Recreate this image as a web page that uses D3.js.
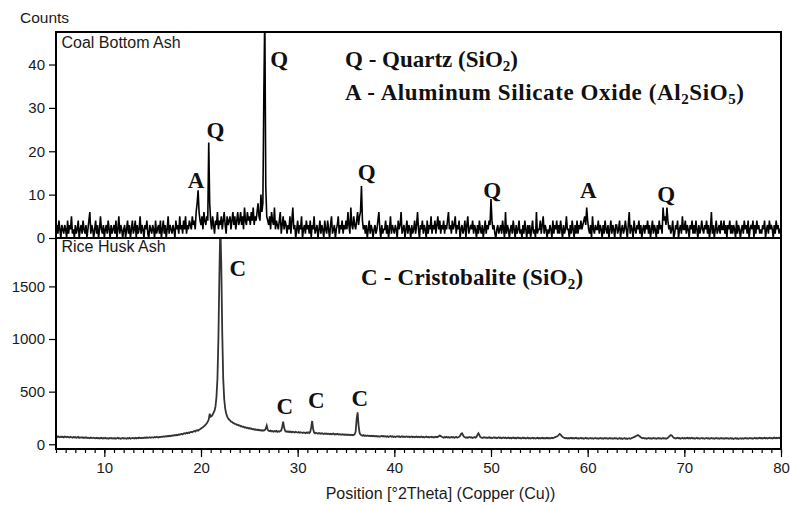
<!DOCTYPE html>
<html><head><meta charset="utf-8">
<script src="https://cdn.jsdelivr.net/npm/d3@7"></script>
<style>body{margin:0;background:#fff}svg{display:block}</style>
</head><body>
<svg id="c" width="791" height="505"></svg>
<script>
// ---- data ----
const thetaStart = 5, thetaStep = 0.1;   // measurement grid, °2θ
const xTicks = [10, 20, 30, 40, 50, 60, 70, 80];
const coalTicks = [0, 10, 20, 30, 40];
const riceTicks = [0, 500, 1000, 1500];

// Coal Bottom Ash counts (5.0 .. 80.0 step 0.1)
const coalCounts = [
 2,3,1,4,2,0,3,2,1,3, 2,0,4,1,3,2,5,1,2,0, 3,1,2,4,0,2,3,1,4,2, 1,3,0,2,4,6,1,3,2,0, 2,4,1,3,0,2,5,2,1,3,
 0,2,3,1,4,2,0,3,1,2, 3,1,4,0,2,5,1,3,2,0, 2,3,0,2,4,1,3,0,2,4, 1,2,4,0,3,1,2,5,1,3, 2,0,3,2,4,1,0,3,2,1,
 3,2,0,4,1,2,3,1,4,0, 2,4,1,3,0,2,5,1,3,2, 1,3,2,0,4,2,3,1,5,2, 3,1,4,2,5,1,3,2,4,3, 2,5,3,4,2,6,8,11,6,4,
 3,5,2,6,4,3,5,4,22,8, 4,2,5,3,1,4,3,6,2,4, 3,5,2,4,6,3,1,5,3,4, 5,2,4,6,3,5,2,4,6,3, 4,6,3,5,2,7,4,3,6,4,
 5,3,6,4,7,3,5,4,6,8, 5,4,10,6,8,33,52,12,5,4, 3,5,2,6,4,3,7,2,4,3, 2,4,6,1,3,5,2,4,3,1, 3,2,5,1,4,7,2,3,0,2,
 4,1,3,2,5,0,2,3,1,4, 2,3,1,4,0,3,2,5,1,2, 3,0,2,4,1,3,2,0,4,2, 1,4,2,0,3,5,1,2,3,0, 2,3,5,1,3,2,4,1,3,2,
 4,2,6,3,1,7,3,2,5,3, 2,4,6,3,5,6,12,4,2,3, 1,3,0,2,4,1,3,2,0,2, 3,1,2,4,6,2,0,3,1,2, 2,4,1,3,0,2,5,1,3,2,
 1,3,2,0,4,2,3,6,1,2, 3,0,2,4,1,3,2,0,3,1, 2,4,1,3,6,2,0,3,2,4, 1,3,2,0,4,1,3,2,5,1, 3,2,4,1,3,5,2,4,1,3,
 2,4,1,3,2,4,6,2,3,1, 4,2,3,5,1,3,2,4,0,2, 3,1,2,4,0,3,5,1,2,3, 2,4,1,3,2,0,3,1,4,2, 1,3,0,2,4,1,3,2,4,3,
 9,4,2,3,1,0,2,3,1,2, 3,1,4,2,0,6,1,3,2,0, 2,3,1,4,2,0,3,1,2,4, 1,2,0,3,1,4,2,0,3,1, 3,0,2,4,1,2,0,6,1,2,
 2,4,1,3,5,1,3,2,0,2, 1,3,2,0,4,1,3,2,4,1, 3,1,4,2,0,3,1,2,5,2, 2,0,3,1,4,2,0,3,1,4, 1,3,2,4,2,3,4,5,3,7,
 4,2,1,3,0,5,2,1,3,2, 2,4,1,3,2,0,3,1,4,2, 1,3,0,2,4,1,3,2,0,3, 3,1,2,4,0,2,3,1,2,4, 2,0,3,6,1,3,2,0,4,2,
 1,3,2,4,1,3,0,2,3,1, 3,2,4,1,3,0,2,4,1,3, 2,0,3,1,4,2,3,1,7,4, 5,3,7,4,2,3,1,2,4,0, 1,3,2,4,0,2,3,1,5,2,
 2,4,1,3,2,0,3,2,4,1, 3,1,4,2,0,3,1,2,4,2, 1,3,2,4,1,3,0,2,6,1, 3,0,2,4,1,2,3,1,4,2, 2,4,1,3,0,3,2,4,1,3,
 1,3,2,0,4,1,3,2,0,2, 3,1,4,2,3,1,4,0,2,3, 2,4,0,3,1,4,2,3,1,2, 1,3,2,4,0,2,3,1,4,2, 3,2,0,3,1,4,2,3,1,2,
 2
];

// Rice Husk Ash counts (5.0 .. 80.0 step 0.1)
const riceCounts = [
 72,68,75,70,66,74,69,71,65,73, 70,66,72,68,64,71,67,63,69,65, 68,62,66,70,61,65,63,67,60,64,
 62,66,59,63,61,57,64,60,58,62, 59,56,61,57,60,54,58,62,55,59, 57,61,55,58,53,59,56,60,54,57,
 55,59,53,57,61,54,58,52,56,60, 54,58,56,52,59,55,61,53,57,60, 58,55,62,56,60,57,63,59,61,58,
 62,59,64,60,66,61,63,67,62,65, 66,63,69,65,71,67,64,70,68,72, 70,74,71,76,73,78,75,80,77,82,
 80,85,82,88,84,91,87,93,90,96, 98,94,101,105,100,108,104,111,107,115, 118,114,122,126,121,130,134,129,138,143,
 150,156,162,170,178,188,200,215,235,290, 262,268,280,300,320,360,450,620,1000,1600, 2100,1700,1050,620,430,340,295,265,248,235,
 228,215,214,203,202,193,192,185,186,178, 179,171,172,165,167,160,162,155,158,151, 154,147,150,143,146,139,143,136,140,134,
 137,131,135,129,133,131,136,150,178,138, 128,124,130,122,126,119,125,121,127,118, 124,120,126,130,165,214,158,128,119,123,
 117,122,115,120,113,119,116,112,118,114, 111,116,109,114,112,107,113,110,106,112, 108,113,106,118,160,221,145,112,104,109,
 105,101,107,103,99,105,101,97,103,99, 102,97,100,95,99,94,98,101,93,97, 95,99,92,96,93,90,95,91,94,89,
 93,88,92,87,91,86,90,85,89,95, 120,240,304,180,110,92,86,82,87,80, 84,79,83,78,82,77,81,76,80,75,
 79,74,78,73,77,72,76,80,74,78, 73,77,71,75,70,74,78,72,76,70, 74,69,73,77,71,75,68,72,76,70,
 73,68,72,75,69,73,67,71,74,68, 72,66,70,74,68,72,66,70,73,67, 71,65,69,73,67,71,65,69,72,66,
 70,64,68,72,66,70,76,82,78,71, 67,63,69,65,71,64,68,62,66,70, 64,68,62,66,70,63,67,72,80,98,
 104,88,72,66,62,67,61,65,69,63, 66,60,64,68,62,70,90,104,86,68, 64,59,63,67,61,65,59,63,67,60,
 64,58,62,66,60,64,58,62,66,59, 63,57,61,65,59,63,57,61,65,58, 62,56,60,64,58,62,56,60,64,57,
 61,55,59,63,57,61,55,59,63,56, 60,55,59,62,56,60,55,58,62,56, 60,54,58,62,56,60,54,58,62,56,
 60,55,59,63,58,62,66,70,74,78, 88,98,92,80,70,64,60,56,60,55, 59,54,58,62,56,60,54,58,61,55,
 59,53,57,61,55,59,53,57,61,55, 58,53,57,60,55,58,53,57,60,54, 58,52,56,60,54,58,52,56,60,54,
 57,52,56,59,54,57,52,55,59,54, 57,51,55,59,53,57,51,55,59,53, 56,51,55,58,53,56,60,64,68,72,
 78,84,88,82,74,66,60,56,60,54, 58,52,56,60,54,58,52,56,60,54, 57,52,56,59,54,57,52,55,59,54,
 57,52,56,62,70,80,88,84,72,62, 58,54,58,62,56,59,53,57,61,55, 59,54,58,62,56,60,54,58,61,55,
 59,53,57,61,55,58,53,57,60,54, 58,53,57,60,55,58,52,56,60,54, 58,52,56,60,54,58,52,56,59,54,
 57,52,56,59,54,57,52,55,59,53, 57,51,55,59,53,57,51,55,58,53, 57,52,56,60,54,58,53,57,60,55,
 58,53,57,61,55,59,54,58,61,56, 59,54,58,62,56,60,55,59,62,57, 60,55,59,63,57,61,56,60,63,58,
 62
];

// peak labels: phase letter, anchor in data units (°2θ, counts)
const coalPeakLabels = [
  {label: "A", theta: 19.5, count: 11.5},
  {label: "Q", theta: 21.5, count: 23.0},
  {label: "Q", theta: 28.1, count: 39.5},
  {label: "Q", theta: 37.15, count: 13.4},
  {label: "Q", theta: 50.13, count: 9.2},
  {label: "A", theta: 60.07, count: 9.2},
  {label: "Q", theta: 68.13, count: 8.4}
];
const ricePeakLabels = [
  {label: "C", theta: 23.8, count: 1600},
  {label: "C", theta: 28.67, count: 288},
  {label: "C", theta: 31.94, count: 342},
  {label: "C", theta: 36.42, count: 364}
];
const coalLegend = [
  [["Q - Quartz (SiO", 0], ["2", 1], [")", 0]],
  [["A - Aluminum Silicate Oxide (Al", 0], ["2", 1], ["SiO", 0], ["5", 1], [")", 0]]
];
const riceLegend = [
  [["C - Cristobalite (SiO", 0], ["2", 1], [")", 0]]
];
const panelNames = ["Coal Bottom Ash", "Rice Husk Ash"];
const yTitle = "Counts";
const xTitle = "Position [°2Theta] (Copper (Cu))";

// ---- layout ----
const L = 56, R = 781, T = 32, M = 238, B = 449;
const svg = d3.select("#c");
const sans = "'Liberation Sans', Arial, sans-serif";
const serif = "'Liberation Serif', 'Times New Roman', serif";

const x = d3.scaleLinear().domain([5, 80]).range([L, R]);
const yTop = d3.scaleLinear().domain([0, 47.5]).range([M, T]);
const yBot = d3.scaleLinear().domain([-45, 1960]).range([B, M]);

const theta = i => thetaStart + i * thetaStep;

const defs = svg.append("defs");
defs.append("clipPath").attr("id", "clipTop").append("rect")
  .attr("x", L).attr("y", T).attr("width", R - L).attr("height", M - T);
defs.append("clipPath").attr("id", "clipBot").append("rect")
  .attr("x", L).attr("y", M).attr("width", R - L).attr("height", B - M);

// series
svg.append("path")
  .datum(coalCounts)
  .attr("clip-path", "url(#clipTop)")
  .attr("fill", "none").attr("stroke", "#000").attr("stroke-width", 1.6)
  .attr("d", d3.line().x((d, i) => x(theta(i))).y(d => yTop(d)));

svg.append("path")
  .datum(riceCounts)
  .attr("clip-path", "url(#clipBot)")
  .attr("fill", "none").attr("stroke", "#333").attr("stroke-width", 1.8)
  .attr("d", d3.line().x((d, i) => x(theta(i))).y(d => yBot(d)));

// frame
svg.append("rect").attr("x", L).attr("y", T).attr("width", R - L).attr("height", B - T)
  .attr("fill", "none").attr("stroke", "#000").attr("stroke-width", 2);
svg.append("line").attr("x1", L).attr("x2", R).attr("y1", M).attr("y2", M)
  .attr("stroke", "#000").attr("stroke-width", 2);

// axes
function styleAxis(g) {
  g.select(".domain").remove();
  g.selectAll(".tick line").attr("stroke", "#000").attr("stroke-width", 1.2);
  g.selectAll(".tick text").attr("fill", "#1a1a1a").style("font-family", sans).style("font-size", "15px");
}
const fmt = d3.format("d");
svg.append("g").attr("transform", `translate(${L},0)`)
  .call(d3.axisLeft(yTop).tickValues(coalTicks).tickFormat(fmt).tickSize(7).tickPadding(4)).call(styleAxis);
svg.append("g").attr("transform", `translate(${L},0)`)
  .call(d3.axisLeft(yBot).tickValues(riceTicks).tickFormat(fmt).tickSize(7).tickPadding(4)).call(styleAxis);
svg.append("g").attr("transform", `translate(0,${B})`)
  .call(d3.axisBottom(x).tickValues(d3.range(5, 81)).tickSize(4).tickFormat(""))
  .call(styleAxis);
svg.append("g").attr("transform", `translate(0,${B})`)
  .call(d3.axisBottom(x).tickValues(xTicks).tickFormat(fmt).tickSize(8).tickPadding(5))
  .call(styleAxis);

// titles
svg.append("text").attr("x", 20).attr("y", 23).text(yTitle)
  .style("font-family", sans).style("font-size", "15.5px").attr("fill", "#1a1a1a");
svg.append("text").attr("x", (L + R) / 2 + 22).attr("y", 499).attr("text-anchor", "middle").text(xTitle)
  .style("font-family", sans).style("font-size", "16px").attr("fill", "#1a1a1a");
svg.append("text").attr("x", 61.5).attr("y", 48).text(panelNames[0])
  .style("font-family", sans).style("font-size", "16px").attr("fill", "#1a1a1a");
svg.append("text").attr("x", 61.5).attr("y", 252).text(panelNames[1])
  .style("font-family", sans).style("font-size", "16px").attr("fill", "#1a1a1a");

// peak labels
function peakLabels(data, yScale) {
  svg.append("g").selectAll("text").data(data).join("text")
    .attr("x", d => x(d.theta)).attr("y", d => yScale(d.count))
    .attr("text-anchor", "middle").text(d => d.label)
    .style("font-family", serif).style("font-weight", "bold").style("font-size", "23px")
    .attr("fill", "#111");
}
peakLabels(coalPeakLabels, yTop);
peakLabels(ricePeakLabels, yBot);

// legends (with subscripts)
function legend(lines, x0, y0, gap, spacing) {
  lines.forEach((parts, k) => {
    const t = svg.append("text").attr("x", x0).attr("y", y0 + k * gap)
      .style("font-family", serif).style("font-weight", "bold").style("font-size", "23px")
      .style("letter-spacing", (spacing[k] || 0) + "px")
      .attr("fill", "#111");
    let sub = false;
    parts.forEach(([s, isSub]) => {
      const ts = t.append("tspan").text(s);
      if (isSub) ts.style("font-size", "15px");
      if (isSub && !sub) { ts.attr("dy", 4); sub = true; }
      else if (!isSub && sub) { ts.attr("dy", -4); sub = false; }
    });
  });
}
legend(coalLegend, 345, 67, 33, [0, 0.6]);
legend(riceLegend, 361, 285, 0, [0.2]);
</script>
</body></html>
